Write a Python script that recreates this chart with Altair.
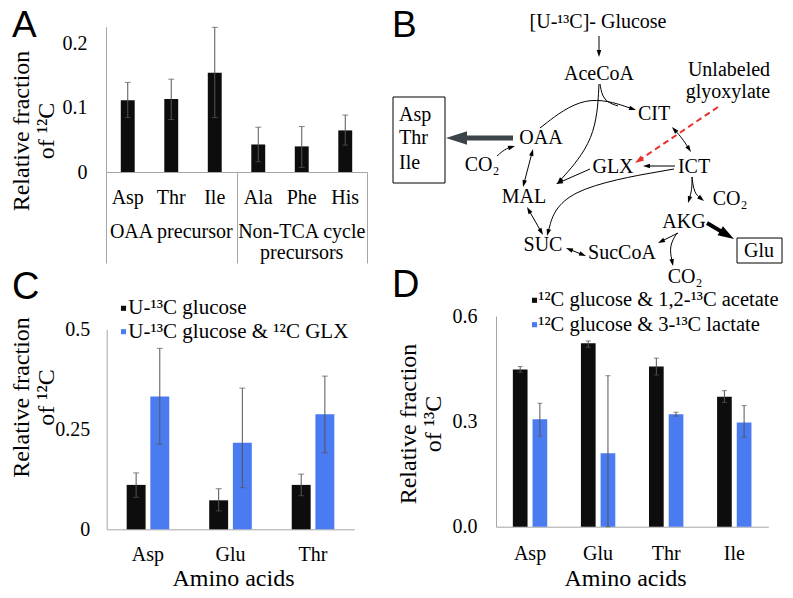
import math
import altair as alt
import pandas as pd

W, H = 777, 582
MARGIN = 8


def px(v):
    return v - MARGIN


SERIF = "Liberation Serif, Times New Roman, Tinos, DejaVu Serif, serif"
SANS = "Liberation Sans, Arial, Helvetica, sans-serif"
BLACK = "#0d0d0d"
BLUE = "#4a7bf0"
AXIS_GRAY = "#a6a6a6"
ERR_GRAY = "#555555"

# ---------------- Panel A data ----------------
a_acids = ["Asp", "Thr", "Ile", "Ala", "Phe", "His"]
a_group_names = ["OAA precursor", "Non-TCA cycle\nprecursors"]
a_mean = [0.112, 0.114, 0.155, 0.043, 0.040, 0.065]
a_low = [0.085, 0.082, 0.085, 0.016, 0.007, 0.042]
a_high = [0.140, 0.145, 0.226, 0.070, 0.071, 0.089]
a_ticks = [0, 0.1, 0.2]

# ---------------- Panel C data ----------------
c_acids = ["Asp", "Glu", "Thr"]
c_series = ["U-\u00b9\u00b3C glucose", "U-\u00b9\u00b3C glucose & \u00b9\u00b2C GLX"]
c_mean_1 = [0.111, 0.0725, 0.111]
c_low_1 = [0.080, 0.046, 0.084]
c_high_1 = [0.141, 0.1015, 0.138]
c_mean_2 = [0.332, 0.2165, 0.2875]
c_low_2 = [0.2125, 0.104, 0.1915]
c_high_2 = [0.4525, 0.353, 0.383]
c_ticks = [0, 0.25, 0.5]

# ---------------- Panel D data ----------------
d_acids = ["Asp", "Glu", "Thr", "Ile"]
d_series = ["\u00b9\u00b2C glucose & 1,2-\u00b9\u00b3C acetate", "\u00b9\u00b2C glucose & 3-\u00b9\u00b3C lactate"]
d_mean_1 = [0.448, 0.5225, 0.456, 0.370]
d_low_1 = [0.440, 0.511, 0.432, 0.354]
d_high_1 = [0.456, 0.529, 0.480, 0.3875]
d_mean_2 = [0.306, 0.209, 0.320, 0.297]
d_low_2 = [0.258, 0.0, 0.315, 0.2545]
d_high_2 = [0.3515, 0.430, 0.326, 0.345]
d_ticks = [0.0, 0.3, 0.6]

# ---------------- Panel B diagram (local coordinates) ----------------
b_labels = ["[U-\u00b9\u00b3C]- Glucose", "AceCoA", "Unlabeled", "glyoxylate", "CIT", "OAA",
            "CO\u2082", "GLX", "ICT", "MAL", "CO\u2082", "AKG", "SUC", "SucCoA", "CO\u2082", "Glu"]
b_label_x = [208, 209, 339, 338, 264, 151, 92, 223, 304, 134, 340, 294, 153, 232, 295, 369]
b_label_y = [22, 74, 70, 92, 114, 138, 165, 167, 167, 197, 199, 222, 245, 253, 277, 251]
b_box_labels = ["Asp", "Thr", "Ile"]
b_box_label_x = [9, 9, 9]
b_box_label_y = [115, 138, 163]
b_box_x0 = [3, 347]
b_box_x1 = [55, 392]
b_box_y0 = [97, 238]
b_box_y1 = [183, 263]

b_edge_names = ["glc", "oaa_cit", "acecoa_join", "acecoa_mal", "cit_ict", "ict_glx", "glx_mal",
                "ict_suc", "oaa_mal", "mal_suc", "suc_succoa", "ict_akg", "ict_co2",
                "akg_succoa", "akg_co2", "co2_oaa", "oaa_out", "akg_glu", "glx_in"]
b_edge_styles = ["thin"] * 16 + ["thick", "black", "red"]
b_edge_points = [
    [(209, 36), (209, 57)],
    [(150, 128), (195, 93), (246, 110)],
    [(210, 84), (213, 101), (228, 106)],
    [(209, 84), (206, 140), (167, 184)],
    [(282, 127), (292, 138), (301, 152)],
    [(285, 166), (253, 166)],
    [(200, 169), (166, 184)],
    [(284, 169), (170, 189), (157, 236)],
    [(143, 149), (133, 187)],
    [(137, 207), (153, 235)],
    [(176, 248), (196, 256)],
    [(302, 177), (302, 190), (298, 203)],
    [(302, 177), (304, 193), (314, 201)],
    [(288, 233), (268, 243)],
    [(287, 233), (279, 246), (283, 266)],
    [(107, 156), (115, 149), (125, 146)],
    [(123, 138), (56, 138)],
    [(317, 223), (344, 239)],
    [(328, 107), (245, 163)],
]
b_edge_heads = ["end", "end", "none", "end", "both", "end", "end", "end", "both", "both", "both",
                "end", "end", "end", "end", "end", "end", "end", "end"]

HEAD_LEN = {"thin": 7, "thick": 21, "black": 16, "red": 9}
LINE_STYLE = {
    "thin": dict(color="black", strokeWidth=1),
    "thick": dict(color="#3b4449", strokeWidth=5),
    "black": dict(color="black", strokeWidth=4),
    "red": dict(color="#e8312a", strokeWidth=2, strokeDash=[6, 4]),
}
ARROW = "M0,-1L-0.65,1L0.65,1Z"


def unit(a, b):
    dx, dy = b[0] - a[0], b[1] - a[1]
    n = math.hypot(dx, dy)
    return dx / n, dy / n


line_rows, head_rows = [], []
for name, style, pts, heads in zip(b_edge_names, b_edge_styles, b_edge_points, b_edge_heads):
    pts = [list(p) for p in pts]
    L = HEAD_LEN[style]
    if heads in ("end", "both"):
        ux, uy = unit(pts[-2], pts[-1])
        tip = pts[-1]
        head_rows.append(dict(style=style, x=tip[0] - ux * L / 2, y=tip[1] - uy * L / 2,
                              angle=math.degrees(math.atan2(ux, -uy)) % 360))
        pts[-1] = [tip[0] - ux * L * 0.6, tip[1] - uy * L * 0.6]
    if heads == "both":
        ux, uy = unit(pts[1], pts[0])
        tip = pts[0]
        head_rows.append(dict(style=style, x=tip[0] - ux * L / 2, y=tip[1] - uy * L / 2,
                              angle=math.degrees(math.atan2(ux, -uy)) % 360))
        pts[0] = [tip[0] - ux * L * 0.6, tip[1] - uy * L * 0.6]
    for i, (x, y) in enumerate(pts):
        line_rows.append(dict(edge=name, style=style, seq=i, x=x, y=y))
lines_df = pd.DataFrame(line_rows)
heads_df = pd.DataFrame(head_rows)


# ---------------- helpers ----------------
def left_axis(axis_x, values, fmt, title, first_line_cx, title_cy, pad):
    return alt.Axis(orient="left", offset=-px(axis_x), values=values, format=fmt,
                    grid=False, ticks=False, tickSize=0, domainColor=AXIS_GRAY, domainWidth=1,
                    labelFont=SERIF, labelFontSize=20, labelColor="black", labelPadding=pad,
                    title=title, titleFont=SERIF, titleFontSize=24, titleFontWeight="normal",
                    titleColor="black", titleAngle=270, titleAlign="center",
                    titleBaseline="middle", titleLineHeight=25,
                    titleX=first_line_cx - axis_x, titleY=px(title_cy))


def bottom_axis(axis_y, pad, title=None, title_cx=0, title_base=0):
    kw = dict(orient="bottom", offset=px(axis_y) - H, grid=False, ticks=False, tickSize=0,
              domainColor=AXIS_GRAY, domainWidth=1, labelFont=SERIF, labelFontSize=20,
              labelColor="black", labelPadding=pad, labelAngle=0)
    if title:
        kw.update(title=title, titleFont=SERIF, titleFontSize=24, titleFontWeight="normal",
                  titleColor="black", titleX=px(title_cx), titleY=title_base - axis_y,
                  titleAlign="center", titleBaseline="alphabetic")
    else:
        kw.update(title=None)
    return alt.Axis(**kw)


def legend_layers(series, colors, sym_cx, text_x, row_y, font_size):
    """Legend drawn from the series list: a square key and a label per series."""
    df = pd.DataFrame({"s": series})
    ys = alt.Scale(type="point", domain=series, range=[px(row_y[0]), px(row_y[1])], padding=0)
    cs = alt.Scale(domain=series, range=colors)
    keys = alt.Chart(df).mark_square(size=26, opacity=1, filled=True).encode(
        x=alt.value(px(sym_cx)),
        y=alt.Y("s:N", scale=ys, sort=None, axis=None),
        color=alt.Color("s:N", scale=cs, sort=None, legend=None))
    labels = alt.Chart(df).mark_text(font=SERIF, fontSize=font_size, align="left",
                                     baseline="middle", color="black").encode(
        x=alt.value(px(text_x)),
        y=alt.Y("s:N", scale=ys, sort=None, axis=None),
        text="s:N")
    return [keys, labels]


layers = []

# ---------------- Panel A ----------------
dfA = pd.DataFrame({"aa": a_acids, "v": a_mean, "lo": a_low, "hi": a_high})
xA = alt.Scale(domain=a_acids, range=[px(106), px(367)], paddingInner=0.68, paddingOuter=0.34)
yA = alt.Scale(domain=[0, 0.227], range=[px(172), px(26.7)], nice=False, zero=True)

layers.append(alt.Chart(dfA).mark_bar(color=BLACK).encode(
    x=alt.X("aa:N", scale=xA, sort=None, axis=bottom_axis(172, 15)),
    y=alt.Y("v:Q", scale=yA, axis=left_axis(106, a_ticks, ".2~g",
                                            ["Relative fraction", "of \u00b9\u00b2C"], 21.5, 130.5, 19)),
))
layers.append(alt.Chart(dfA).mark_rule(color=ERR_GRAY, strokeWidth=1).encode(
    x=alt.X("aa:N", scale=xA, sort=None, axis=None),
    y=alt.Y("lo:Q", scale=yA, axis=None), y2="hi:Q"))
for col in ("lo", "hi"):
    layers.append(alt.Chart(dfA).mark_tick(color=ERR_GRAY, thickness=1, size=6).encode(
        x=alt.X("aa:N", scale=xA, sort=None, axis=None),
        y=alt.Y(f"{col}:Q", scale=yA, axis=None)))

xG = alt.Scale(domain=a_group_names, range=[px(106), px(367)], paddingInner=0, paddingOuter=0)
layers.append(alt.Chart(pd.DataFrame({"grp": a_group_names})).mark_text(
    font=SERIF, fontSize=20, lineBreak="\n", baseline="alphabetic", lineHeight=21,
    align="center", color="black").encode(
    x=alt.X("grp:N", scale=xG, sort=None,
            axis=alt.Axis(orient="bottom", offset=px(172) - H, labels=False, domain=False,
                          ticks=True, tickBand="extent", tickSize=91, tickColor=AXIS_GRAY,
                          tickWidth=1, grid=False, title=None)),
    y=alt.value(px(238)), text="grp:N"))

# ---------------- Panel C ----------------
rowsC = []
for i, aa in enumerate(c_acids):
    rowsC.append(dict(aa=aa, s=c_series[0], v=c_mean_1[i], lo=c_low_1[i], hi=c_high_1[i]))
    rowsC.append(dict(aa=aa, s=c_series[1], v=c_mean_2[i], lo=c_low_2[i], hi=c_high_2[i]))
dfC = pd.DataFrame(rowsC)
xC = alt.Scale(domain=c_acids, range=[px(106.7), px(354.3)], paddingInner=0.484, paddingOuter=0.242)
oC = alt.Scale(domain=c_series, paddingInner=0.2, paddingOuter=0)
yC = alt.Scale(domain=[0, 0.5], range=[px(529.3), px(329.3)], nice=False, zero=True)
colC = alt.Scale(domain=c_series, range=[BLACK, BLUE])

layers.append(alt.Chart(dfC).mark_bar().encode(
    x=alt.X("aa:N", scale=xC, sort=None, axis=bottom_axis(529.3, 15, "Amino acids", 233, 585)),
    xOffset=alt.XOffset("s:N", scale=oC, sort=None),
    y=alt.Y("v:Q", scale=yC, axis=left_axis(106.7, c_ticks, ".2~g",
                                            ["Relative fraction", "of \u00b9\u00b2C"], 21.5, 397, 17)),
    color=alt.Color("s:N", scale=colC, sort=None, legend=None),
))
layers.append(alt.Chart(dfC).mark_rule(color=ERR_GRAY, strokeWidth=1).encode(
    x=alt.X("aa:N", scale=xC, sort=None, axis=None),
    xOffset=alt.XOffset("s:N", scale=oC, sort=None),
    y=alt.Y("lo:Q", scale=yC, axis=None), y2="hi:Q"))
for col in ("lo", "hi"):
    layers.append(alt.Chart(dfC).mark_tick(color=ERR_GRAY, thickness=1, size=6).encode(
        x=alt.X("aa:N", scale=xC, sort=None, axis=None),
        xOffset=alt.XOffset("s:N", scale=oC, sort=None),
        y=alt.Y(f"{col}:Q", scale=yC, axis=None)))
layers += legend_layers(c_series, [BLACK, BLUE], 123.5, 128.3, (308.3, 331.7), 21)

# ---------------- Panel D ----------------
rowsD = []
for i, aa in enumerate(d_acids):
    rowsD.append(dict(aa=aa, s=d_series[0], v=d_mean_1[i], lo=d_low_1[i], hi=d_high_1[i]))
    rowsD.append(dict(aa=aa, s=d_series[1], v=d_mean_2[i], lo=d_low_2[i], hi=d_high_2[i]))
dfD = pd.DataFrame(rowsD)
xD = alt.Scale(domain=d_acids, range=[px(496), px(768.3)], paddingInner=0.495, paddingOuter=0.2475)
oD = alt.Scale(domain=d_series, paddingInner=0.254, paddingOuter=0)
yD = alt.Scale(domain=[0, 0.6], range=[px(526.7), px(316)], nice=False, zero=True)
colD = alt.Scale(domain=d_series, range=[BLACK, BLUE])

layers.append(alt.Chart(dfD).mark_bar().encode(
    x=alt.X("aa:N", scale=xD, sort=None, axis=bottom_axis(526.7, 17, "Amino acids", 625, 585)),
    xOffset=alt.XOffset("s:N", scale=oD, sort=None),
    y=alt.Y("v:Q", scale=yD, axis=left_axis(496, d_ticks, ".1f",
                                            ["Relative fraction", "of \u00b9\u00b3C"], 408, 423.5, 19)),
    color=alt.Color("s:N", scale=colD, sort=None, legend=None),
))
layers.append(alt.Chart(dfD).mark_rule(color=ERR_GRAY, strokeWidth=1).encode(
    x=alt.X("aa:N", scale=xD, sort=None, axis=None),
    xOffset=alt.XOffset("s:N", scale=oD, sort=None),
    y=alt.Y("lo:Q", scale=yD, axis=None), y2="hi:Q"))
for col in ("lo", "hi"):
    layers.append(alt.Chart(dfD).mark_tick(color=ERR_GRAY, thickness=1, size=5).encode(
        x=alt.X("aa:N", scale=xD, sort=None, axis=None),
        xOffset=alt.XOffset("s:N", scale=oD, sort=None),
        y=alt.Y(f"{col}:Q", scale=yD, axis=None)))
layers += legend_layers(d_series, [BLACK, BLUE], 534.5, 538.3, (300.3, 324.7), 20.5)

# ---------------- Panel B ----------------
xB = alt.Scale(domain=[0, 400], range=[px(390), px(790)], nice=False, zero=False)
yB = alt.Scale(domain=[0, 300], range=[px(0), px(300)], nice=False, zero=False)


def bx(field):
    return alt.X(field, scale=xB, axis=None)


def by(field):
    return alt.Y(field, scale=yB, axis=None)


boxes_df = pd.DataFrame({"x0": b_box_x0, "x1": b_box_x1, "y0": b_box_y0, "y1": b_box_y1})
layers.append(alt.Chart(boxes_df).mark_rect(fillOpacity=0, stroke="black", strokeWidth=1).encode(
    x=bx("x0:Q"), x2="x1:Q", y=by("y0:Q"), y2="y1:Q"))

for style in ["thin", "thick", "black", "red"]:
    sub = lines_df[lines_df["style"] == style]
    layers.append(alt.Chart(sub).mark_line(interpolate="basis", strokeCap="butt",
                                           **LINE_STYLE[style]).encode(
        x=bx("x:Q"), y=by("y:Q"), detail="edge:N", order="seq:Q"))
    hsub = heads_df[heads_df["style"] == style]
    L = HEAD_LEN[style]
    layers.append(alt.Chart(hsub).mark_point(shape=ARROW, filled=True, size=L * L,
                                             color=LINE_STYLE[style]["color"], opacity=1,
                                             strokeWidth=0).encode(
        x=bx("x:Q"), y=by("y:Q"), angle=alt.Angle("angle:Q", scale=None)))

nodes_df = pd.DataFrame({"t": b_labels, "x": b_label_x, "y": b_label_y})
layers.append(alt.Chart(nodes_df).mark_text(font=SERIF, fontSize=20, align="center",
                                            baseline="middle", color="black").encode(
    x=bx("x:Q"), y=by("y:Q"), text="t:N"))
box_txt_df = pd.DataFrame({"t": b_box_labels, "x": b_box_label_x, "y": b_box_label_y})
layers.append(alt.Chart(box_txt_df).mark_text(font=SERIF, fontSize=20, align="left",
                                              baseline="middle", color="black").encode(
    x=bx("x:Q"), y=by("y:Q"), text="t:N"))

# ---------------- Panel letters ----------------
top_letters = pd.DataFrame({"t": ["A", "B"], "lx": [4, px(392)], "ly": [0, 0]})
layers.append(alt.Chart(top_letters).mark_text(font=SANS, fontSize=37, align="left",
                                               baseline="top", color="black").encode(
    x=alt.X("lx:Q", scale=None), y=alt.Y("ly:Q", scale=None), text="t:N"))
low_letters = pd.DataFrame({"t": ["C", "D"], "lx": [4, px(392)], "ly": [px(299), px(297)]})
layers.append(alt.Chart(low_letters).mark_text(font=SANS, fontSize=38, align="left",
                                               baseline="alphabetic", color="black").encode(
    x=alt.X("lx:Q", scale=None), y=alt.Y("ly:Q", scale=None), text="t:N"))

chart = alt.layer(*layers).resolve_scale(
    x="independent", y="independent", color="independent", xOffset="independent"
).resolve_axis(
    x="independent", y="independent"
).properties(
    width=W, height=H, padding=0, autosize=alt.AutoSizeParams(type="none")
).configure_view(stroke="transparent")

chart.save("out.html", embed_options={"renderer": "svg", "actions": False})
